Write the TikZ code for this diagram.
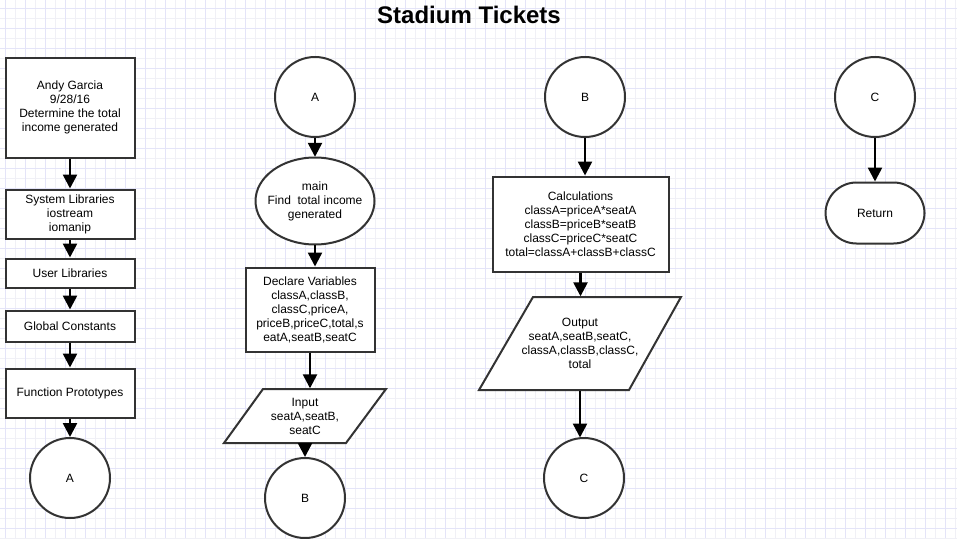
\documentclass[tikz,border=0pt]{standalone}
\usepackage{fontspec}
\setmainfont{Liberation Sans}
\usetikzlibrary{arrows.meta,shapes.geometric}
\definecolor{edge}{HTML}{333333}
\definecolor{gridminor}{HTML}{F0F0F6}
\definecolor{gridmajor}{HTML}{E4E4F8}
\begin{document}
\begin{tikzpicture}[x=1pt,y=-1pt,
  every node/.style={font=\fontsize{12}{14}\selectfont, text=black},
  procbox/.style={draw=edge, line width=2pt, fill=white, rectangle, align=center, inner sep=0pt},
  conn/.style={draw=edge, line width=2pt, fill=white, circle, inner sep=0pt, minimum size=80pt},
  termbox/.style={draw=edge, line width=2pt, fill=white, rectangle, rounded corners=31pt, align=center, inner sep=0pt},
  shapeline/.style={draw=edge, line width=2pt, fill=white, line join=miter},
  plaintext/.style={rectangle, align=center, inner sep=0pt},
  flow/.style={line width=2.5pt, -{Triangle[length=14pt,width=14pt]}},
  gminor/.style={draw=gridminor, line width=1pt},
  gmajor/.style={draw=gridmajor, line width=1pt},
]
\fill[white] (0,0) rectangle (957,538);
\useasboundingbox (0,0) rectangle (957,538);
% grid
\foreach \x in {15,35,...,955} \draw[gminor] (\x,0) -- (\x,538);
\foreach \y in {18,38,...,538} \draw[gminor] (0,\y) -- (957,\y);
\foreach \x in {5,25,...,955} \draw[gmajor] (\x,0) -- (\x,538);
\foreach \y in {8,28,...,538} \draw[gmajor] (0,\y) -- (957,\y);

% title
\node[font=\fontsize{24}{27}\selectfont\bfseries, anchor=base] (title) at (469,23) {Stadium Tickets};

% column 1
\node[procbox, minimum width=129pt, minimum height=100pt] (info) at (70,107.5) {Andy Garcia\\9/28/16\\Determine the total\\income generated};
\node[procbox, minimum width=129pt, minimum height=49pt] (sys) at (70,214) {System Libraries\\iostream\\iomanip};
\node[procbox, minimum width=129pt, minimum height=29pt] (user) at (70,273) {User Libraries};
\node[procbox, minimum width=129pt, minimum height=31pt] (glob) at (70,326) {Global Constants};
\node[procbox, minimum width=129pt, minimum height=49pt] (func) at (70,393) {Function Prototypes};
\node[conn] (A1) at (70,478) {A};
\draw[flow] (info) -- (sys);
\draw[flow] (sys) -- (user);
\draw[flow] (user) -- (glob);
\draw[flow] (glob) -- (func);
\draw[flow] (func) -- (A1);

% column 2
\node[conn] (A2) at (315,97) {A};
\draw[shapeline] (315,201) ellipse [x radius=59.5pt, y radius=43.5pt];
\node[plaintext, minimum width=119pt, minimum height=88pt] (main) at (315,201) {main\\Find\ \ total income\\generated};
\node[procbox, minimum width=129pt, minimum height=84pt] (decl) at (310,309.5) {Declare Variables\\classA,classB,\\classC,priceA,\\priceB,priceC,total,s\\eatA,seatB,seatC};
\draw[shapeline] (263,389) -- (386,389) -- (346,443) -- (224,443) -- cycle;
\node[plaintext, minimum width=123pt, minimum height=55pt] (inp) at (305,416) {Input\\seatA,seatB,\\seatC};
\node[conn] (B2) at (305,498) {B};
\draw[flow] (A2) -- (main);
\draw[flow] (main) -- (main |- decl.north);
\draw[flow] (decl) -- (decl |- inp.north);
\draw[flow] (inp) -- (B2);

% column 3
\node[conn] (B3) at (585,97) {B};
\node[procbox, minimum width=176pt, minimum height=95pt] (calc) at (580.5,224) {Calculations\\classA=priceA*seatA\\classB=priceB*seatB\\classC=priceC*seatC\\total=classA+classB+classC};
\draw[shapeline] (533,297) -- (681,297) -- (629,390) -- (479,390) -- cycle;
\node[plaintext, minimum width=150pt, minimum height=94pt] (out) at (580,343.5) {Output\\seatA,seatB,seatC,\\classA,classB,classC,\\total};
\node[conn] (C3) at (584,478) {C};
\draw[flow] (B3) -- (B3 |- calc.north);
\draw[flow] (calc) -- (calc |- out.north);
\draw[flow] (out.south) -- ([yshift=-0.5pt]out.south |- C3.north);

% column 4
\node[conn] (C4) at (875,97) {C};
\node[termbox, minimum width=99pt, minimum height=61pt] (ret) at (875,213) {Return};
\draw[flow] (C4) -- (ret);
\end{tikzpicture}
\end{document}
